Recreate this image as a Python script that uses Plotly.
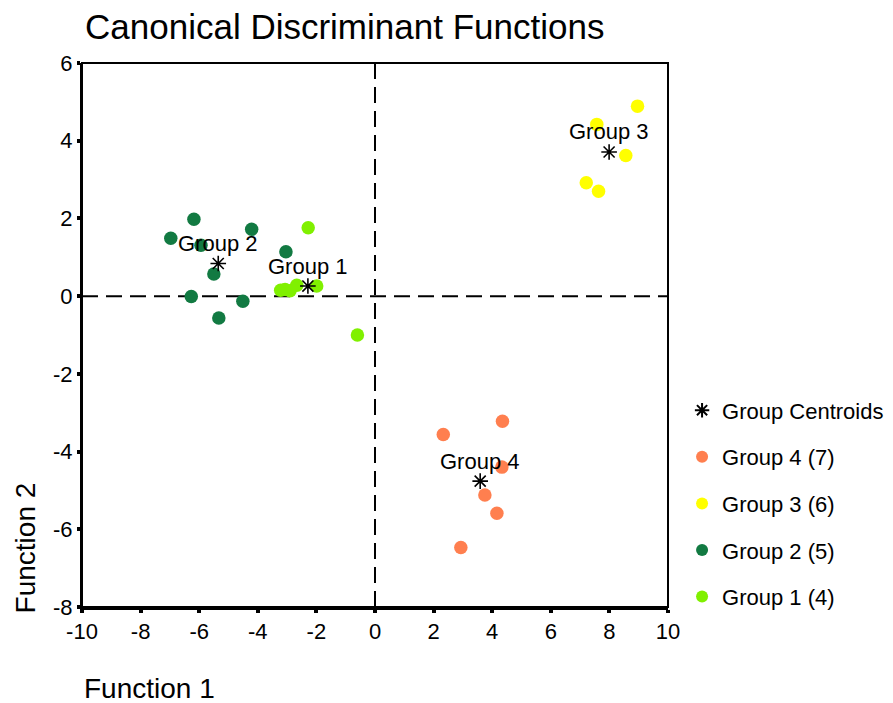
import plotly.graph_objects as go

# ---- data ----
group1_x = [-2.28, -3.22, -3.07, -2.90, -2.67, -1.99, -0.60]
group1_y = [1.76, 0.15, 0.17, 0.14, 0.28, 0.26, -1.00]

group2_x = [-6.18, -6.97, -5.94, -4.21, -3.04, -5.50, -6.27, -4.51, -5.33]
group2_y = [1.98, 1.49, 1.31, 1.72, 1.14, 0.57, -0.01, -0.13, -0.56]

group3_x = [8.96, 7.57, 8.56, 7.21, 7.63]
group3_y = [4.89, 4.42, 3.62, 2.92, 2.70]

group4_x = [4.35, 2.33, 4.33, 3.75, 4.16, 2.93]
group4_y = [-3.22, -3.56, -4.40, -5.12, -5.59, -6.47]

centroid_labels = ["Group 1", "Group 2", "Group 3", "Group 4"]
centroid_x = [-2.29, -5.35, 7.99, 3.59]
centroid_y = [0.26, 0.84, 3.71, -4.76]

legend_names = ["Group 1 (4)", "Group 2 (5)", "Group 3 (6)", "Group 4 (7)"]
x_ticks = list(range(-10, 11, 2))
y_ticks = list(range(-8, 7, 2))
x_tick_text = [str(v) for v in x_ticks]
y_tick_text = [str(v) for v in y_ticks]

FONT = "Liberation Sans, Arial, sans-serif"
colors = ["#80f000", "#127a42", "#ffff00", "#ff7f4f"]

fig = go.Figure()

groups = [(group1_x, group1_y), (group2_x, group2_y), (group3_x, group3_y), (group4_x, group4_y)]
for i, (gx, gy) in enumerate(groups):
    fig.add_trace(go.Scatter(
        x=gx, y=gy, mode="markers", name=legend_names[i],
        legendgroup=f"g{i}", legendrank=100 - i,
        marker=dict(size=13.5, color=colors[i], line=dict(width=0)),
    ))

fig.add_trace(go.Scatter(
    x=centroid_x, y=centroid_y, mode="markers", name="Group Centroids",
    legendgroup="c", legendrank=1,
    marker=dict(symbol="asterisk-open", size=13, color="black",
                line=dict(width=1.6, color="black")),
))

for lab, cx, cy in zip(centroid_labels, centroid_x, centroid_y):
    fig.add_annotation(x=cx, y=cy, text=lab, showarrow=False, yshift=20,
                       font=dict(size=22, color="black", family=FONT))

# dashed reference lines at 0
fig.add_shape(type="line", xref="x", yref="paper", x0=0, x1=0, y0=0, y1=1,
              line=dict(color="black", width=2, dash="16px,8px"), layer="below")
fig.add_shape(type="line", xref="paper", yref="y", x0=0, x1=1, y0=0, y1=0,
              line=dict(color="black", width=2, dash="16px,8px"), layer="below")
# frame
fig.add_shape(type="rect", xref="paper", yref="paper", x0=0, x1=1, y0=0, y1=1,
              line=dict(color="black", width=2))

fig.add_annotation(xref="paper", yref="paper", x=-0.097, y=0.108, text="Function 2",
                   textangle=-90, showarrow=False, xanchor="center", yanchor="middle",
                   font=dict(size=28, color="black", family=FONT))
fig.add_annotation(xref="paper", yref="paper", x=0.0, y=-0.150, text="Function 1",
                   showarrow=False, xanchor="left", yanchor="middle",
                   font=dict(size=28, color="black", family=FONT))

fig.update_layout(
    width=893, height=703,
    margin=dict(l=82, r=225, t=63, b=96, autoexpand=False),
    paper_bgcolor="white", plot_bgcolor="white",
    font=dict(family=FONT, size=22, color="black"),
    title=dict(text="Canonical Discriminant Functions", x=85 / 893, xanchor="left",
               xref="container", y=1 - 27 / 703, yanchor="middle", yref="container",
               font=dict(size=35, color="black", family=FONT)),
    xaxis=dict(range=[-10, 10], tickvals=x_ticks, ticktext=x_tick_text,
               showgrid=False, zeroline=False,
               showline=True, linewidth=3, linecolor="black",
               ticks="outside", ticklen=3, tickwidth=4, tickcolor="black",
               tickfont=dict(size=22)),
    yaxis=dict(range=[-8, 6], tickvals=y_ticks, ticktext=y_tick_text,
               showgrid=False, zeroline=False,
               showline=True, linewidth=2, linecolor="black",
               ticks="outside", ticklen=3, tickwidth=4, tickcolor="black",
               tickfont=dict(size=22)),
    legend=dict(x=1.024, xanchor="left", y=0.400, yanchor="top",
                traceorder="grouped", tracegroupgap=15,
                font=dict(size=22, color="black", family=FONT),
                bgcolor="rgba(0,0,0,0)", itemsizing="constant"),
    showlegend=True,
)

fig.write_html("out.html")
